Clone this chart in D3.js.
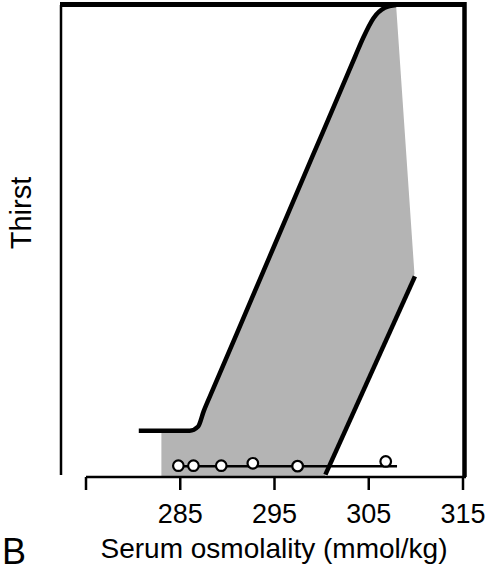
<!DOCTYPE html>
<html>
<head>
<meta charset="utf-8">
<script src="https://cdn.jsdelivr.net/npm/d3@7"></script>
<style>
  body { margin: 0; background: #fff; }
  text { font-family: "Liberation Sans", Arial, Helvetica, sans-serif; fill: #000; }
</style>
</head>
<body>
<div id="chart"></div>
<script>
// axis ticks
var xTicks = [275, 285, 295, 305, 315];
var xTickLabels = ["", "285", "295", "305", "315"];

// upper thirst threshold curve (osmolality, thirst)
var upperCurve = [
  [280.6, 0.98], [283.0, 0.98], [286.0, 0.98], [286.9, 1.07], [287.5, 1.4],
  [288.5, 1.87], [291.0, 3.04], [295.0, 4.91], [299.0, 6.78], [302.0, 8.18],
  [303.6, 8.93], [304.4, 9.3], [305.5, 9.72], [306.7, 9.94], [307.9, 10]
];
// lower boundary line
var lowerLine = [[300.4, 0.05], [309.9, 4.25]];
// right edge of shaded band, then down to baseline
var shadeRight = [[307.9, 10], [309.85, 4.3], [300.3, 0]];
var shadeLeft = 283.0;

// individual subjects at low thirst
var subjOsm = [284.8, 286.4, 289.35, 292.7, 297.45, 306.8];
var subjThirst = [0.24, 0.24, 0.24, 0.29, 0.23, 0.33];
var baseRange = [284.8, 308.0];
var baseLevel = 0.23;

var width = 487, height = 575;

var svg = d3.select("#chart").append("svg")
    .attr("width", width)
    .attr("height", height);

var x = d3.scaleLinear().domain([275, 315]).range([86, 463]);
var y = d3.scaleLinear().domain([0, 10]).range([477, 5]);

var line = d3.line()
    .x(function(d) { return x(d[0]); })
    .y(function(d) { return y(d[1]); });

var curveLine = d3.line()
    .curve(d3.curveMonotoneX)
    .x(function(d) { return x(d[0]); })
    .y(function(d) { return y(d[1]); });

// shaded band
var upperPart = upperCurve.filter(function(d) { return d[0] >= shadeLeft; });
var shadePath = "M" + x(shadeLeft) + "," + y(0) + "L" + curveLine(upperPart).slice(1);
shadeRight.slice(1).forEach(function(d) {
  shadePath += "L" + x(d[0]) + "," + y(d[1]);
});
shadePath += "Z";

svg.append("path")
    .attr("d", shadePath)
    .style("fill", "#b4b4b4")
    .style("stroke", "none");

// frame: left, top, right
svg.append("line")
    .attr("x1", 61).attr("x2", 61)
    .attr("y1", y(10)).attr("y2", y(0) - 2)
    .style("stroke", "#000").style("stroke-width", 2.5);

svg.append("line")
    .attr("x1", 60).attr("x2", x(315) + 3)
    .attr("y1", y(10) - 0.5).attr("y2", y(10) - 0.5)
    .style("stroke", "#000").style("stroke-width", 5);

svg.append("line")
    .attr("x1", x(315) + 1.5).attr("x2", x(315) + 1.5)
    .attr("y1", y(10) - 3).attr("y2", y(0))
    .style("stroke", "#000").style("stroke-width", 4.5);

// x axis
var xAxis = svg.append("g")
    .attr("transform", "translate(0," + y(0) + ")");

xAxis.append("line")
    .attr("x1", x(275)).attr("x2", x(315) + 3)
    .style("stroke", "#000").style("stroke-width", 2.5);

var tick = xAxis.selectAll(".tick")
    .data(xTicks)
  .enter().append("g")
    .attr("class", "tick")
    .attr("transform", function(d) { return "translate(" + x(d) + ",0)"; });

tick.append("line")
    .attr("y2", 13)
    .style("stroke", "#000").style("stroke-width", 2.5);

tick.append("text")
    .attr("y", 46)
    .attr("text-anchor", "middle")
    .style("font-size", "27px")
    .text(function(d, i) { return xTickLabels[i]; });

// thirst curves
svg.append("path")
    .attr("d", curveLine(upperCurve))
    .style("fill", "none")
    .style("stroke", "#000")
    .style("stroke-width", 4.5)
    .style("stroke-linejoin", "round");

svg.append("path")
    .attr("d", line(lowerLine))
    .style("fill", "none")
    .style("stroke", "#000")
    .style("stroke-width", 4.5);

// baseline for subjects
svg.append("line")
    .attr("x1", x(baseRange[0])).attr("x2", x(baseRange[1]))
    .attr("y1", y(baseLevel)).attr("y2", y(baseLevel))
    .style("stroke", "#000").style("stroke-width", 2.5);

svg.selectAll(".subj")
    .data(subjOsm)
  .enter().append("circle")
    .attr("class", "subj")
    .attr("cx", function(d) { return x(d); })
    .attr("cy", function(d, i) { return y(subjThirst[i]); })
    .attr("r", 5.3)
    .style("fill", "#fff")
    .style("stroke", "#000")
    .style("stroke-width", 2.2);

// labels
svg.append("text")
    .attr("transform", "translate(31,213) rotate(-90)")
    .attr("text-anchor", "middle")
    .style("font-size", "29px")
    .text("Thirst");

svg.append("text")
    .attr("x", 274)
    .attr("y", 558)
    .attr("text-anchor", "middle")
    .style("font-size", "28px")
    .text("Serum osmolality (mmol/kg)");

svg.append("text")
    .attr("x", 2)
    .attr("y", 564)
    .style("font-size", "36px")
    .text("B");
</script>
</body>
</html>
